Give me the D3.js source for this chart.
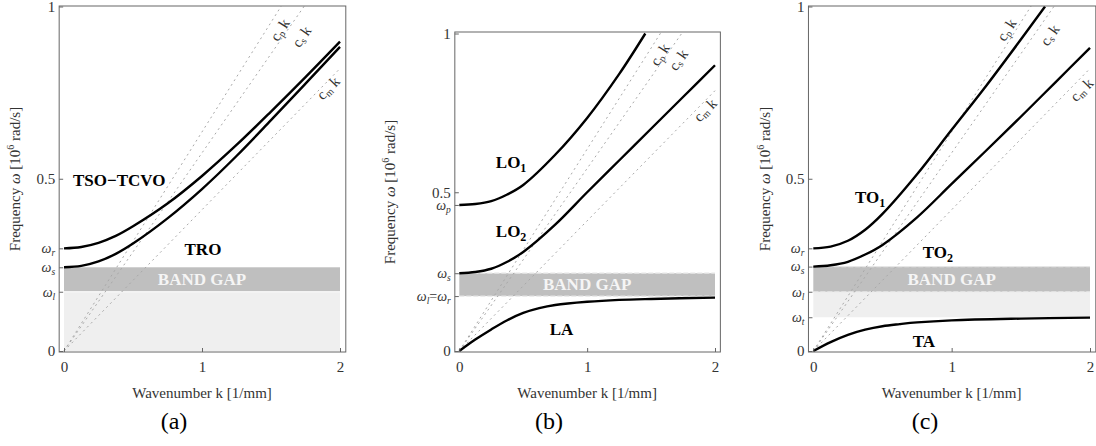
<!DOCTYPE html>
<html>
<head>
<meta charset="utf-8">
<script src="https://cdn.jsdelivr.net/npm/d3@7"></script>
<style>
  body { margin: 0; background: #fff; }
  svg text { font-family: "Liberation Serif", "Times New Roman", serif; }
</style>
</head>
<body>
<script>
// Values
var kGrid = [0, 0.125, 0.25, 0.375, 0.5, 0.75, 1, 1.25, 1.5, 1.75, 2];

// panel (a)
var aTso = [0.298, 0.302, 0.314, 0.334, 0.362, 0.428, 0.508, 0.598, 0.695, 0.795, 0.898];
var aTro = [0.243, 0.247, 0.26, 0.282, 0.312, 0.385, 0.47, 0.566, 0.67, 0.776, 0.883];
var aOmega = [0.298, 0.243, 0.172];
var aOmegaSubs = ["r", "s", "l"];

// panel (b)
var bLo1K = [0, 0.125, 0.25, 0.375, 0.5, 0.75, 1, 1.25, 1.455];
var bLo1 = [0.46, 0.463, 0.472, 0.493, 0.523, 0.618, 0.734, 0.872, 1.0];
var bLo2 = [0.245, 0.249, 0.259, 0.281, 0.312, 0.398, 0.50, 0.60, 0.70, 0.80, 0.90];
var bLaK = [0, 0.125, 0.25, 0.375, 0.5, 0.625, 0.75, 1, 1.25, 1.5, 2];
var bLa = [0, 0.036, 0.068, 0.097, 0.12, 0.135, 0.145, 0.155, 0.161, 0.164, 0.168];
var bOmega = [0.46, 0.245, 0.173];
var bOmegaSubs = ["p", "s", "l=r"];

// panel (c)
var cTo1K = [0, 0.125, 0.25, 0.375, 0.5, 0.75, 1, 1.25, 1.5, 1.675];
var cTo1 = [0.298, 0.303, 0.32, 0.352, 0.398, 0.513, 0.642, 0.77, 0.904, 1.0];
var cTo2 = [0.245, 0.249, 0.259, 0.28, 0.308, 0.388, 0.485, 0.582, 0.68, 0.78, 0.88];
var cTaK = [0, 0.125, 0.25, 0.375, 0.5, 0.625, 0.75, 1, 1.5, 2];
var cTa = [0, 0.026, 0.047, 0.062, 0.072, 0.078, 0.083, 0.089, 0.094, 0.097];
var cOmega = [0.298, 0.245, 0.172, 0.098];
var cOmegaSubs = ["r", "s", "l", "t"];

// wave speeds c_p, c_s, c_m (slope of the dotted lines)
var waveSpeeds = [0.636, 0.575, 0.41];
var speedSubs = ["p", "s", "m"];

var yTicks = [0, 0.5, 1];
var xTicks = [0, 1, 2];

var width = 1096, height = 446;
var svg = d3.select("body").append("svg")
  .attr("width", width)
  .attr("height", height);

function pairs(ks, ws) {
  return ks.map(function(k, i) { return [k, ws[i]]; });
}

// Panel layouts
var panels = [
  {
    id: "a", xRange: [64, 340], yRange: [351, 6.5], top: 6, bottom: 352,
    curves: [pairs(kGrid, aTso), pairs(kGrid, aTro)],
    omega: aOmega, omegaSubs: aOmegaSubs,
    light: [0, aOmega[2]], band: [aOmega[2], aOmega[1]], dashedBand: false,
    modes: [
      { text: "TSO\u2212TCVO", k: 0.40, w: 0.48 },
      { text: "TRO", k: 1.007, w: 0.28 }
    ],
    speedLabels: [[1.565, 0.932], [1.722, 0.912], [1.915, 0.763]],
    yLabelX: 20, caption: "(a)", captionX: 174
  },
  {
    id: "b", xRange: [459.3, 715], yRange: [351, 33.5], top: 32, bottom: 352,
    curves: [pairs(bLo1K, bLo1), pairs(kGrid, bLo2), pairs(bLaK, bLa)],
    omega: bOmega, omegaSubs: bOmegaSubs,
    light: null, band: [bOmega[2], bOmega[1]], dashedBand: true,
    modes: [
      { text: "LO", sub: "1", k: 0.405, w: 0.576 },
      { text: "LO", sub: "2", k: 0.405, w: 0.36 },
      { text: "LA", k: 0.80, w: 0.05 }
    ],
    speedLabels: [[1.57, 0.933], [1.714, 0.917], [1.923, 0.759]],
    yLabelX: 394.5, caption: "(b)", captionX: 549
  },
  {
    id: "c", xRange: [813.3, 1090], yRange: [351, 6.5], top: 6, bottom: 352,
    curves: [pairs(cTo1K, cTo1), pairs(kGrid, cTo2), pairs(cTaK, cTa)],
    omega: cOmega, omegaSubs: cOmegaSubs,
    light: [cOmega[3], cOmega[2]], band: [cOmega[2], cOmega[1]], dashedBand: true,
    modes: [
      { text: "TO", sub: "1", k: 0.41, w: 0.429 },
      { text: "TO", sub: "2", k: 0.90, w: 0.269 },
      { text: "TA", k: 0.80, w: 0.0125 }
    ],
    speedLabels: [[1.398, 0.932], [1.71, 0.917], [1.94, 0.758]],
    yLabelX: 769.5, caption: "(c)", captionX: 925
  }
];

panels.forEach(drawPanel);

function drawPanel(p) {
  var x = d3.scaleLinear().domain([0, 2]).range(p.xRange);
  var y = d3.scaleLinear().domain([0, 1]).range(p.yRange);
  var left = x(-0.035), right = x(2.042);
  var g = svg.append("g").attr("class", "panel-" + p.id);

  // clip to the frame
  g.append("clipPath").attr("id", "clip-" + p.id)
    .append("rect")
    .attr("x", left).attr("y", p.top)
    .attr("width", right - left).attr("height", p.bottom - p.top);
  var inner = g.append("g").attr("clip-path", "url(#clip-" + p.id + ")");

  // shaded regions
  if (p.light) {
    inner.append("rect")
      .attr("x", x(0)).attr("width", x(2) - x(0))
      .attr("y", y(p.light[1])).attr("height", y(p.light[0]) - y(p.light[1]))
      .attr("fill", "#efefef");
  }
  inner.append("rect")
    .attr("x", x(0)).attr("width", x(2) - x(0))
    .attr("y", y(p.band[1])).attr("height", y(p.band[0]) - y(p.band[1]))
    .attr("fill", "#bfbfbf");
  if (p.dashedBand) {
    p.band.forEach(function(v) {
      inner.append("line")
        .attr("x1", x(0)).attr("x2", x(2))
        .attr("y1", y(v)).attr("y2", y(v))
        .attr("stroke", "#e6e6e6").attr("stroke-width", 1.2)
        .attr("stroke-dasharray", "5,2");
    });
  } else {
    inner.append("line")
      .attr("x1", x(0)).attr("x2", x(2))
      .attr("y1", y(p.band[0])).attr("y2", y(p.band[0]))
      .attr("stroke", "#fff").attr("stroke-width", 1.2);
  }
  inner.append("text")
    .attr("x", x(1)).attr("y", y((p.band[0] + p.band[1]) / 2))
    .attr("text-anchor", "middle").attr("dominant-baseline", "central")
    .attr("font-size", 17).attr("font-weight", "bold")
    .attr("fill", "#f5f5f5")
    .text("BAND GAP");

  // dotted c k lines
  waveSpeeds.forEach(function(c) {
    inner.append("line")
      .attr("x1", x(0)).attr("y1", y(0))
      .attr("x2", x(2)).attr("y2", y(2 * c))
      .attr("stroke", "#a8a8a8").attr("stroke-width", 1)
      .attr("stroke-dasharray", "2,3.5");
  });

  // dispersion curves
  var line = d3.line()
    .x(function(d) { return x(d[0]); })
    .y(function(d) { return y(d[1]); })
    .curve(d3.curveCatmullRom.alpha(0.5));
  inner.selectAll("path.branch")
    .data(p.curves)
    .enter().append("path")
    .attr("class", "branch")
    .attr("d", line)
    .attr("fill", "none")
    .attr("stroke", "#000")
    .attr("stroke-width", 2.4);

  // speed labels, rotated along their lines
  p.speedLabels.forEach(function(pos, i) {
    var px0 = x(0), py0 = y(0);
    var ang = Math.atan2(y(waveSpeeds[i]) - py0, x(1) - px0) * 180 / Math.PI;
    var t = g.append("text")
      .attr("transform", "translate(" + x(pos[0]) + "," + y(pos[1]) + ") rotate(" + ang + ")")
      .attr("text-anchor", "middle").attr("dominant-baseline", "central")
      .attr("font-size", 15).attr("fill", "#333");
    t.append("tspan").text("c");
    t.append("tspan").attr("font-size", 10).attr("dy", 3).text(speedSubs[i]);
    t.append("tspan").attr("dy", -3).text(" k");
  });

  // mode labels
  p.modes.forEach(function(m) {
    var t = g.append("text")
      .attr("x", x(m.k)).attr("y", y(m.w))
      .attr("text-anchor", "middle")
      .attr("font-size", 17).attr("font-weight", "bold").attr("fill", "#000");
    t.append("tspan").text(m.text);
    if (m.sub) t.append("tspan").attr("font-size", 12).attr("dy", 4).text(m.sub);
  });

  // frame
  g.append("rect")
    .attr("x", left).attr("y", p.top)
    .attr("width", right - left).attr("height", p.bottom - p.top)
    .attr("fill", "none").attr("stroke", "#666").attr("stroke-width", 1);

  // y axis: numeric ticks
  var yAxis = g.append("g")
    .attr("transform", "translate(" + left + ",0)")
    .call(d3.axisLeft(y).tickValues(yTicks.concat(p.omega))
      .tickSize(-4).tickPadding(4)
      .tickFormat(function(d) { return yTicks.indexOf(d) >= 0 ? String(d) : ""; }));
  yAxis.select(".domain").remove();
  yAxis.selectAll(".tick line").attr("stroke", "#666");
  yAxis.selectAll(".tick text")
    .attr("font-size", 15).attr("fill", "#333")
    .attr("font-family", "Liberation Serif, Times New Roman, serif");

  // y axis: omega labels
  p.omega.forEach(function(v, i) {
    var t = g.append("text")
      .attr("x", left - 4).attr("y", y(v))
      .attr("text-anchor", "end").attr("dy", "0.34em")
      .attr("font-size", 14).attr("fill", "#333");
    var parts = p.omegaSubs[i].split("=");
    parts.forEach(function(s, j) {
      if (j > 0) t.append("tspan").attr("dy", -3).text("=");
      t.append("tspan").attr("font-style", "italic").text("\u03c9");
      t.append("tspan").attr("font-size", 9.5).attr("font-style", "italic").attr("dy", 3).text(s);
    });
  });

  // x axis
  var xAxis = g.append("g")
    .attr("transform", "translate(0," + p.bottom + ")")
    .call(d3.axisBottom(x).tickValues(xTicks)
      .tickSize(-4).tickPadding(9)
      .tickFormat(function(d) { return String(d); }));
  xAxis.select(".domain").remove();
  xAxis.selectAll(".tick line").attr("stroke", "#666");
  xAxis.selectAll(".tick text")
    .attr("font-size", 15).attr("fill", "#333")
    .attr("font-family", "Liberation Serif, Times New Roman, serif");

  // axis titles
  var yl = g.append("text")
    .attr("transform", "translate(" + p.yLabelX + "," + ((p.top + p.bottom) / 2) + ") rotate(-90)")
    .attr("text-anchor", "middle")
    .attr("font-size", 15).attr("fill", "#333");
  yl.append("tspan").text("Frequency ");
  yl.append("tspan").attr("font-style", "italic").text("\u03c9");
  yl.append("tspan").text(" [10");
  yl.append("tspan").attr("font-size", 10).attr("dy", -6).text("6");
  yl.append("tspan").attr("dy", 6).text(" rad/s]");

  g.append("text")
    .attr("x", x(1)).attr("y", 398)
    .attr("text-anchor", "middle")
    .attr("font-size", 15).attr("fill", "#333")
    .text("Wavenumber k [1/mm]");

  g.append("text")
    .attr("x", p.captionX).attr("y", 429)
    .attr("text-anchor", "middle")
    .attr("font-size", 24).attr("fill", "#000")
    .text(p.caption);
}
</script>
</body>
</html>
